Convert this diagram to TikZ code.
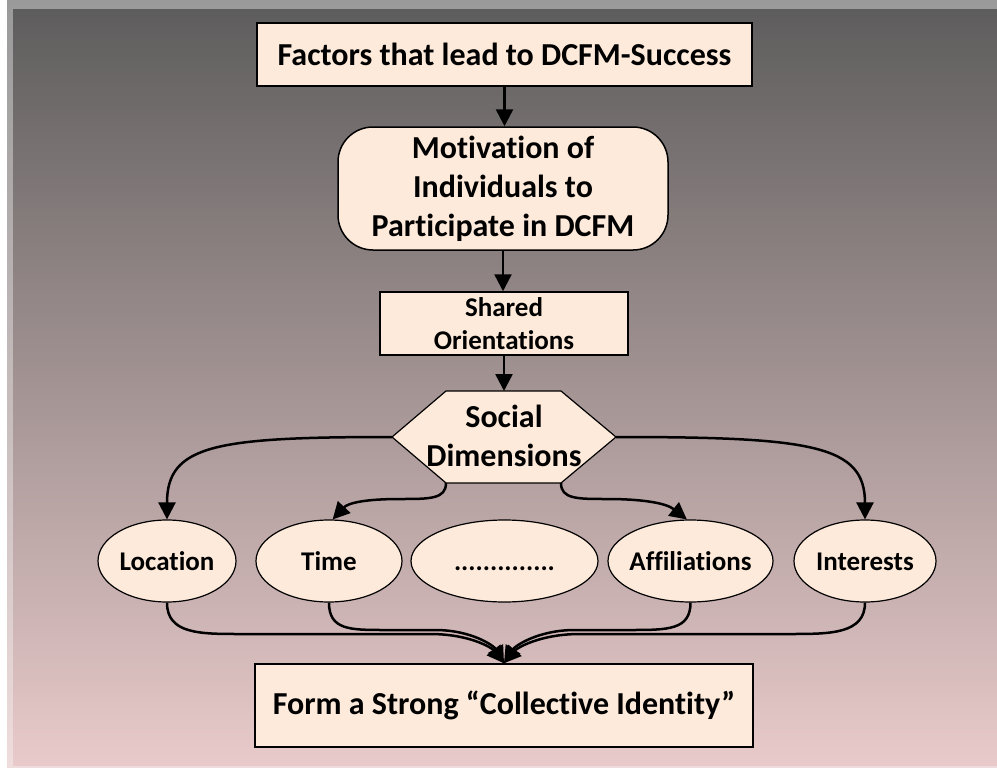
\documentclass[tikz,border=0pt]{standalone}
\usepackage{fontspec}
\setmainfont{Carlito}[Ligatures=NoCommon]
\usetikzlibrary{arrows.meta,calc,shapes.geometric}
\definecolor{boxfill}{HTML}{FDEADA}
\definecolor{bgtop}{HTML}{5E5D5D}
\definecolor{bgbot}{HTML}{E9CACA}
\definecolor{frtop}{HTML}{9A9A9A}
\definecolor{frbot}{HTML}{EFDCDC}
\newcommand{\zw}[1]{\makebox[0pt]{#1}}
\begin{document}
\begin{tikzpicture}[x=1pt,y=-1pt,
  box/.style={draw=black, line width=1.5pt, fill=boxfill, align=center, inner sep=0pt},
  fbig/.style={font=\bfseries\fontsize{32}{39}\selectfont},
  fmid/.style={font=\bfseries\fontsize{27}{33}\selectfont},
  oval/.style={ellipse, draw=black, line width=1.2pt, fill=boxfill, inner sep=0pt, minimum height=82, text height=18pt, text depth=0pt, fmid},
  conn/.style={line width=2.5pt, -{Triangle[length=17pt,width=17pt]}},
]
\useasboundingbox (0,0) rectangle (997,771);
\fill[white] (0,0) rectangle (997,771);
\shade[top color=frtop, bottom color=frbot] (7,0) rectangle (997,767);
\shade[top color=bgtop, bottom color=bgbot] (13,9) rectangle (997,765);

% nodes
\node[box, fbig, minimum width=495, minimum height=63] (f1) at (504.5,54.5) {Factors that lead to DCFM-Success};
\node[box, fbig, rounded corners=35pt, minimum width=330, minimum height=123] (mot) at (503,188.5) {Motivation of\\Individuals to\\Participate in DCFM};
\node[box, fmid, minimum width=248, minimum height=63] (sh) at (504,323.5) {Shared\\Orientations};

\coordinate (hL) at (392,437);
\coordinate (hR) at (616,437);
\coordinate (hTL) at (446,391);
\coordinate (hTR) at (561,391);
\coordinate (hBL) at (446,483);
\coordinate (hBR) at (561,483);
\filldraw[fill=boxfill, line width=1.2pt] (hTL) -- (hTR) -- (hR) -- (hBR) -- (hBL) -- (hL) -- cycle;
\node[fbig, align=center, inner sep=0pt, minimum width=224, minimum height=92] (hex) at (504,436) {Social\\Dimensions};

\node[oval, minimum width=138] (loc) at (167,561) {\zw{Location}};
\node[oval, minimum width=146] (time) at (329,561) {\zw{Time}};
\node[oval, minimum width=187] (dots) at (504.5,561) {\zw{..............}};
\node[oval, minimum width=165] (aff) at (690.5,561) {\zw{Affiliations}};
\node[oval, minimum width=142] (int) at (865,561) {\zw{Interests}};

\node[box, fbig, minimum width=498, minimum height=83] (fin) at (504,705.5) {Form a Strong “Collective Identity”};

% straight connectors
\draw[conn] (f1.south) -- (f1.south |- mot.north);
\draw[conn] (mot.south) -- (mot.south |- sh.north);
\draw[conn] (sh.south) -- (sh.south |- hTL);

% from social dimensions
\draw[conn] (hL) .. controls (215,437) and (167,445) .. (loc.north);
\draw[conn] (hR) .. controls (812,437) and (865,445) .. (int.north);
\draw[conn] (hBL) .. controls (446,499) and (430,499) .. (400,499) .. controls (365,499) and (348,503) .. (time.85);
\draw[conn] (hBR) .. controls (561,499) and (577,499) .. (607,499) .. controls (642,499) and (666,503) .. (aff.95);

% to collective identity
\draw[conn] (loc.south) .. controls (167,634) and (200,634) .. (240,634) -- (430,634) .. controls (470,634) and (492,648) .. (fin.north);
\draw[conn] (time.south) .. controls (329,630) and (350,630) .. (385,630) -- (435,630) .. controls (472,630) and (494,646) .. (fin.north);
\draw[conn] (aff.south) .. controls (690.5,630) and (668,630) .. (630,630) -- (575,630) .. controls (538,630) and (515,646) .. (fin.north);
\draw[conn] (int.south) .. controls (865,634) and (830,634) .. (790,634) -- (580,634) .. controls (540,634) and (517,648) .. (fin.north);
\end{tikzpicture}
\end{document}
